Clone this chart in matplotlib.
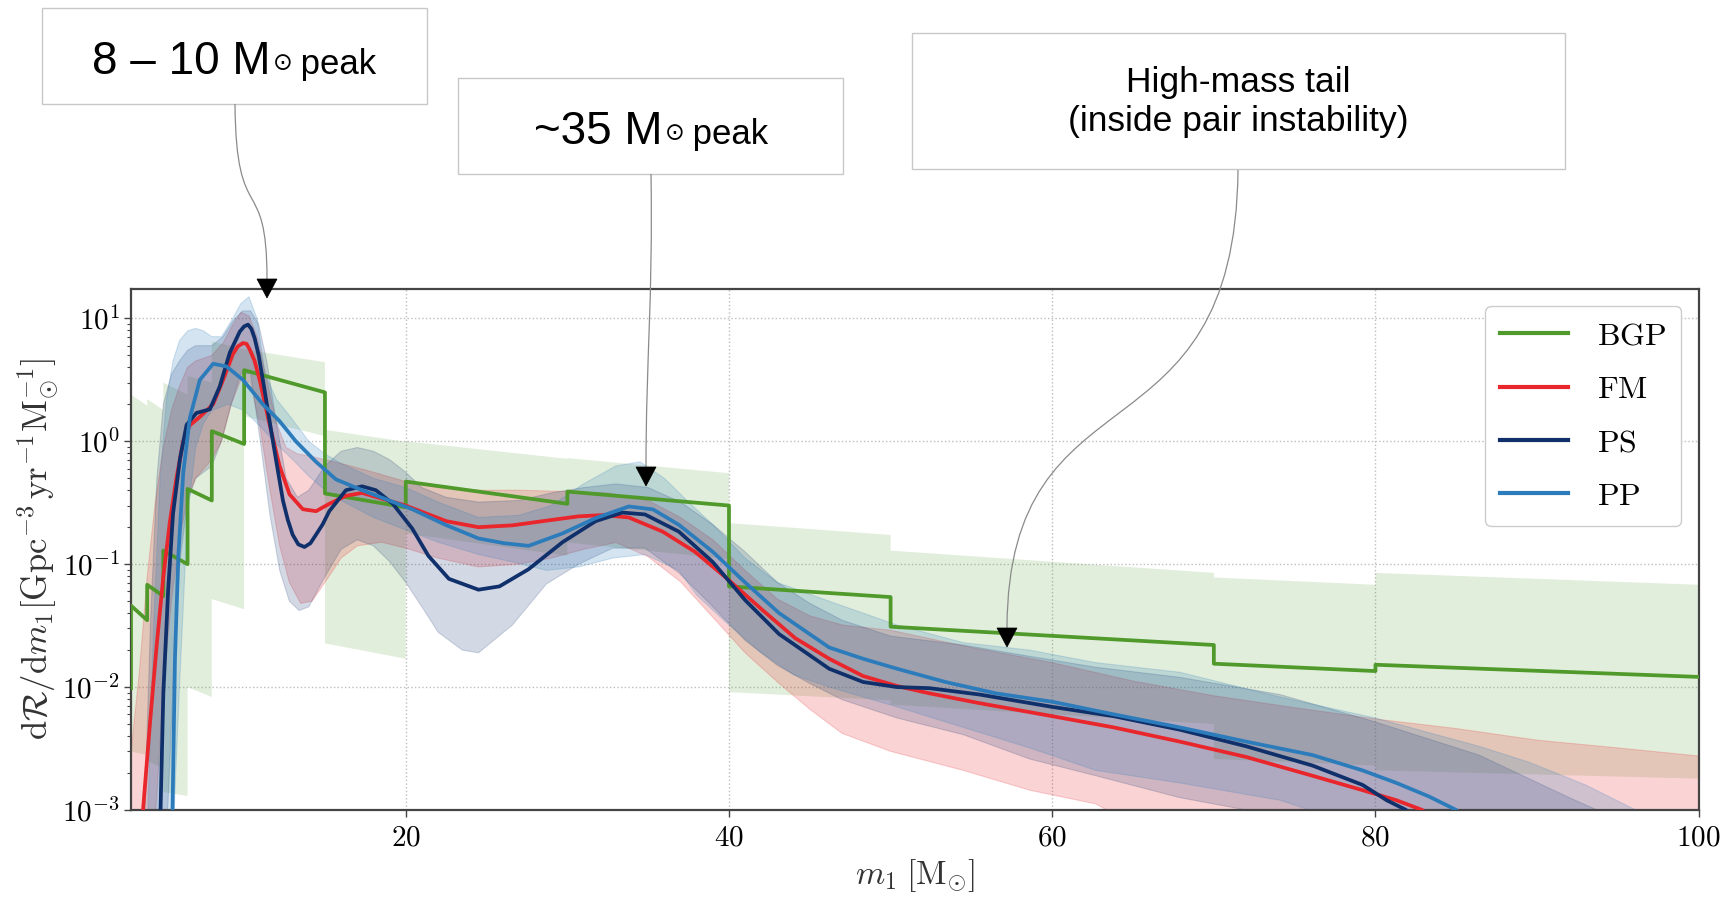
import numpy as np
import matplotlib
matplotlib.use("Agg")
import matplotlib.pyplot as plt
from matplotlib.patches import Rectangle, PathPatch, Polygon
from matplotlib.path import Path

plt.rcParams["mathtext.fontset"] = "cm"
plt.rcParams["font.family"] = ["DejaVu Serif"]

# ---------------- data ----------------
# Binned Gaussian process (BGP): bin edges, median at start/end of each bin, band at start/end
bgp_edges = [3.0, 4.0, 5.0, 6.5, 8.0, 10.0, 15.0, 20.0, 30.0, 40.0, 50.0, 70.0, 80.0, 100.0]
bgp_med_start = [0.046, 0.068, 0.129, 0.41, 1.21, 3.79, 0.376, 0.47, 0.39, 0.066, 0.031, 0.0155, 0.0152]
bgp_med_end = [0.035, 0.055, 0.100, 0.33, 0.95, 2.50, 0.29, 0.31, 0.30, 0.054, 0.022, 0.0135, 0.0121]
bgp_hi_start = [2.4, 2.2, 3.0, 3.4, 6.5, 5.6, 1.24, 1.0, 0.73, 0.216, 0.129, 0.078, 0.085]
bgp_hi_end = [1.95, 1.8, 2.4, 3.0, 5.6, 4.4, 0.99, 0.72, 0.55, 0.173, 0.085, 0.068, 0.068]
bgp_lo_start = [0.003, 0.0025, 0.0014, 0.0100, 0.052, 1.6, 0.0227, 0.178, 0.15, 0.0091, 0.0072, 0.0026, 0.0021]
bgp_lo_end = [0.0028, 0.0022, 0.0013, 0.0083, 0.043, 1.1, 0.017, 0.117, 0.11, 0.0078, 0.0050, 0.0023, 0.0018]
bgp_left_value = 0.0098

# Fixed-mass model (FM)
fm_x = [3.65, 4.18, 4.59, 5.0, 5.41, 5.82, 6.23, 6.64, 7.26, 8.08, 8.7, 9.3, 9.6, 9.93, 10.15, 10.34,
        10.65, 10.96, 11.58, 12.19, 12.81, 13.63, 14.45, 15.27, 16.3, 17.3, 18.56, 20.0, 22.5, 24.5,
        26.6, 28.7, 30.7, 32.2, 33.8, 35.9, 37.9, 40.0, 42.1, 44.1, 46.2, 48.3, 50.4, 52.4, 55.5,
        60.0, 63.8, 67.9, 72.0, 76.1, 79.2, 81.3, 82.9, 83.5]
fm_y = [0.0007, 0.0052, 0.022, 0.079, 0.224, 0.51, 1.0, 1.35, 1.58, 2.0, 3.16, 5.1, 5.9, 6.3, 6.2, 5.6,
        4.5, 3.16, 1.36, 0.63, 0.37, 0.28, 0.27, 0.31, 0.36, 0.38, 0.34, 0.30, 0.224, 0.20,
        0.207, 0.226, 0.245, 0.251, 0.24, 0.184, 0.126, 0.074, 0.042, 0.025, 0.017, 0.0123, 0.0102,
        0.0089, 0.0074, 0.0058, 0.0047, 0.0036, 0.0027, 0.0019, 0.00145, 0.0012, 0.001, 0.0008]
fm_hi_x = [3.0, 3.5, 4.0, 4.5, 5.0, 5.5, 6.0, 6.5, 7.0, 8.0, 8.7, 9.3, 9.8, 10.3, 10.8, 11.4, 12.0,
           12.6, 13.3, 14.0, 15.0, 16.0, 18.0, 20.0, 22.0, 24.5, 27.0, 30.0, 32.5, 35.0, 37.0, 39.0,
           41.0, 43.0, 45.0, 47.0, 50.0, 55.0, 60.0, 65.0, 70.0, 75.0, 80.0, 85.0, 90.0, 95.0, 100.0]
fm_hi_y = [0.003, 0.0126, 0.079, 0.32, 0.89, 1.78, 2.8, 4.0, 4.5, 5.0, 6.3, 8.9, 11.2, 10.5, 7.1,
           3.16, 1.41, 0.89, 0.79, 0.76, 0.71, 0.66, 0.56, 0.47, 0.42, 0.40, 0.40, 0.39, 0.38, 0.33,
           0.24, 0.158, 0.089, 0.052, 0.038, 0.032, 0.029, 0.021, 0.0158, 0.0112, 0.0085, 0.0068,
           0.0055, 0.0046, 0.0037, 0.0032, 0.00275]
fm_lo_x = [3.0, 4.2, 4.6, 5.0, 5.5, 6.0, 6.5, 7.0, 8.0, 8.6, 9.2, 9.8, 10.4, 11.0, 11.6, 12.2, 12.8,
           13.5, 14.2, 15.0, 16.0, 17.0, 18.5, 20.0, 22.0, 24.5, 27.0, 29.0, 31.0, 33.0, 35.0, 37.0,
           39.0, 41.0, 43.0, 45.0, 47.0, 50.0, 54.5, 58.6, 62.7, 64.0, 70.0, 100.0]
fm_lo_y = [0.0001, 0.0003, 0.0013, 0.01, 0.05, 0.158, 0.35, 0.5, 0.71, 1.0, 2.0, 3.16, 3.0, 1.26,
           0.40, 0.141, 0.071, 0.048, 0.050, 0.071, 0.112, 0.141, 0.151, 0.135, 0.112, 0.095, 0.10,
           0.112, 0.132, 0.15, 0.115, 0.072, 0.037, 0.019, 0.011, 0.0066, 0.0042, 0.0030, 0.0021,
           0.00145, 0.00112, 0.0009, 0.0003, 0.0001]

# Power-law spline model (PS)
ps_x = [4.8, 5.0, 5.3, 5.6, 6.03, 6.44, 7.05, 7.88, 8.49, 9.11, 9.73, 10.0, 10.24, 10.45, 10.65,
        10.9, 11.16, 11.78, 12.4, 12.7, 13.0, 13.35, 13.73, 14.1, 14.45, 14.85, 15.27, 16.3, 17.3,
        18.15, 19.2, 20.4, 21.4, 22.67, 24.5, 25.8, 27.6, 29.7, 31.75, 33.4, 34.8, 36.9, 39.0, 41.0,
        43.1, 46.2, 48.3, 50.4, 52.4, 55.5, 60.0, 63.8, 67.9, 72.0, 76.1, 79.2, 80.7, 81.9, 82.3]
ps_y = [0.0007, 0.0089, 0.062, 0.257, 0.72, 1.36, 1.70, 1.82, 2.79, 5.25, 7.8, 8.6, 8.9, 8.2, 6.9,
        5.0, 3.16, 1.0, 0.33, 0.23, 0.174, 0.145, 0.138, 0.148, 0.174, 0.21, 0.27, 0.40, 0.43,
        0.40, 0.31, 0.195, 0.117, 0.076, 0.062, 0.066, 0.091, 0.151, 0.224, 0.263, 0.254, 0.184,
        0.104, 0.051, 0.027, 0.0141, 0.011, 0.010, 0.0098, 0.0087, 0.0069, 0.0058, 0.0045, 0.0033,
        0.0023, 0.0016, 0.0012, 0.001, 0.0008]
ps_hi_x = [3.8, 4.2, 4.6, 5.0, 5.5, 6.0, 6.5, 7.0, 8.0, 8.7, 9.3, 9.9, 10.4, 10.9, 11.4, 12.0, 12.6,
           13.3, 14.0, 15.0, 16.0, 17.0, 18.0, 19.0, 20.0, 21.0, 22.5, 24.5, 27.0, 29.0, 31.0, 33.0,
           35.0, 37.0, 39.0, 41.0, 43.0, 45.0, 47.0, 50.0, 54.5, 58.6, 62.7, 67.9, 74.1, 80.0, 86.4,
           89.5, 92.0, 94.5, 95.0]
ps_hi_y = [0.0006, 0.032, 0.5, 2.0, 3.5, 4.5, 5.5, 6.0, 6.0, 7.1, 9.5, 11.5, 11.5, 9.0, 4.5, 1.41,
           0.50, 0.35, 0.40, 0.63, 0.83, 0.89, 0.83, 0.71, 0.56, 0.42, 0.35, 0.32, 0.33, 0.38, 0.42,
           0.45, 0.42, 0.32, 0.21, 0.126, 0.071, 0.048, 0.035, 0.026, 0.022, 0.0178, 0.0145, 0.012,
           0.0087, 0.0052, 0.0028, 0.0018, 0.00126, 0.0009, 0.0006]
ps_lo_x = [5.2, 5.6, 6.0, 6.5, 7.0, 8.0, 8.6, 9.2, 9.8, 10.4, 11.0, 11.6, 12.2, 12.8, 13.4, 14.0,
           15.0, 16.0, 17.0, 18.0, 19.0, 20.0, 21.0, 22.0, 23.5, 24.5, 26.6, 28.7, 30.7, 32.8, 34.8,
           36.9, 39.0, 41.0, 43.0, 45.0, 47.0, 50.4, 54.5, 58.6, 62.7, 67.9, 72.0, 75.0]
ps_lo_y = [0.0006, 0.01, 0.1, 0.32, 0.5, 0.63, 1.0, 2.0, 3.55, 3.55, 1.0, 0.25, 0.089, 0.05, 0.042,
           0.045, 0.079, 0.132, 0.158, 0.141, 0.105, 0.071, 0.045, 0.028, 0.020, 0.019, 0.032, 0.069,
           0.10, 0.135, 0.135, 0.085, 0.045, 0.024, 0.015, 0.0107, 0.0079, 0.0056, 0.0041, 0.0026,
           0.0019, 0.00126, 0.001, 0.0008]

# Power law + peak model (PP)
pp_x = [5.55, 5.72, 5.93, 6.23, 6.64, 7.26, 8.08, 8.9, 9.93, 11.16, 12.19, 13.2, 14.45, 15.68, 17.3,
        18.97, 20.4, 22.46, 24.5, 26.1, 27.6, 29.7, 31.75, 33.8, 35.3, 36.9, 39.0, 41.0, 43.1, 46.2,
        48.3, 50.4, 53.4, 56.5, 60.0, 63.8, 67.9, 72.0, 76.1, 79.2, 81.3, 83.3, 85.0, 85.4]
pp_y = [0.0007, 0.017, 0.117, 0.55, 1.55, 3.16, 4.27, 4.07, 3.16, 2.0, 1.46, 1.0, 0.68, 0.49, 0.40,
        0.33, 0.28, 0.209, 0.162, 0.148, 0.141, 0.178, 0.237, 0.295, 0.279, 0.209, 0.126, 0.071,
        0.040, 0.021, 0.017, 0.0141, 0.011, 0.0089, 0.0076, 0.006, 0.0047, 0.0036, 0.0028, 0.0021,
        0.00166, 0.00129, 0.001, 0.0008]
pp_hi_x = [4.0, 4.4, 4.8, 5.2, 5.6, 6.0, 6.5, 7.0, 7.5, 8.0, 8.6, 9.2, 9.8, 10.3, 10.8, 11.3, 12.0,
           13.0, 14.0, 15.0, 16.0, 18.0, 20.0, 22.0, 24.5, 27.0, 29.0, 31.0, 33.0, 34.5, 36.0, 37.5,
           39.0, 41.0, 43.0, 46.2, 50.4, 54.5, 58.6, 62.7, 67.9, 74.1, 80.0, 86.4, 89.5, 93.0, 96.8,
           97.2]
pp_hi_y = [0.0006, 0.032, 0.5, 2.2, 4.5, 6.6, 7.9, 8.3, 7.9, 7.1, 7.1, 9.5, 13.2, 15.0, 10.0, 3.5,
           2.2, 1.5, 1.0, 0.79, 0.66, 0.50, 0.42, 0.32, 0.24, 0.25, 0.30, 0.45, 0.63, 0.68, 0.50,
           0.32, 0.21, 0.112, 0.071, 0.050, 0.032, 0.023, 0.020, 0.0158, 0.0132, 0.0083, 0.0056,
           0.0033, 0.00245, 0.0016, 0.0009, 0.0006]
pp_lo_x = [5.6, 6.0, 6.5, 7.0, 7.5, 8.0, 9.0, 10.0, 11.0, 12.0, 13.0, 14.0, 15.0, 16.0, 18.0, 20.0,
           22.0, 24.5, 26.5, 28.7, 30.7, 32.8, 34.8, 36.9, 38.0, 40.0, 42.0, 44.0, 46.2, 50.4, 54.5,
           58.6, 62.7, 67.9, 74.1, 77.0, 78.0]
pp_lo_y = [0.0006, 0.01, 0.25, 0.89, 1.41, 1.78, 2.0, 1.78, 1.32, 0.95, 0.71, 0.52, 0.40, 0.33, 0.24,
           0.19, 0.151, 0.12, 0.105, 0.089, 0.095, 0.112, 0.12, 0.089, 0.056, 0.032, 0.019, 0.0126,
           0.01, 0.0069, 0.0047, 0.0032, 0.0021, 0.00166, 0.0012, 0.0009, 0.0006]

x_ticks = [20, 40, 60, 80, 100]
y_ticks = [1e-3, 1e-2, 1e-1, 1e0, 1e1]
y_tick_labels = [r"$10^{-3}$", r"$10^{-2}$", r"$10^{-1}$", r"$10^{0}$", r"$10^{1}$"]

# ---------------- styles ----------------
C_BGP = "#4f9a2b"
C_FM = "#e8262b"
C_PS = "#10306b"
C_PP = "#2c7cbc"
SANS = ["Liberation Sans", "DejaVu Sans"]

W, H = 1733, 899
fig = plt.figure(figsize=(W / 100, H / 100), dpi=100)
ax_left, ax_right, ax_top, ax_bottom = 131.0, 1698.7, 288.5, 810.0
ax = fig.add_axes([ax_left / W, 1 - ax_bottom / H, (ax_right - ax_left) / W, (ax_bottom - ax_top) / H])

# BGP polyline and band, assembled bin by bin
bx, by = [bgp_edges[0]], [bgp_left_value]
hx, hy, lx, ly = [], [], [], []
for i in range(len(bgp_med_start)):
    a, b = bgp_edges[i], bgp_edges[i + 1]
    bx += [a, b]
    by += [bgp_med_start[i], bgp_med_end[i]]
    hx += [a, b]
    hy += [bgp_hi_start[i], bgp_hi_end[i]]
    lx += [a, b]
    ly += [bgp_lo_start[i], bgp_lo_end[i]]

ax.fill(np.r_[hx, lx[::-1]], np.r_[hy, ly[::-1]], color=C_BGP, alpha=0.16, lw=0, zorder=1)


def band(xu, yu, xl, yl, color, alpha, z):
    ax.fill(np.r_[xu, xl[::-1]], np.r_[yu, yl[::-1]], color=color, alpha=alpha,
            lw=0.8, ec=color, zorder=z)


band(np.array(fm_hi_x), np.array(fm_hi_y), np.array(fm_lo_x), np.array(fm_lo_y), C_FM, 0.2, 1.2)
band(np.array(ps_hi_x), np.array(ps_hi_y), np.array(ps_lo_x), np.array(ps_lo_y), C_PS, 0.18, 1.3)
band(np.array(pp_hi_x), np.array(pp_hi_y), np.array(pp_lo_x), np.array(pp_lo_y), C_PP, 0.2, 1.4)

lw = 2.7
ax.plot(bx, by, color=C_BGP, lw=lw, label=r"$\mathrm{BGP}$", zorder=3)
ax.plot(fm_x, fm_y, color=C_FM, lw=lw, label=r"$\mathrm{FM}$", zorder=3.2)
ax.plot(ps_x, ps_y, color=C_PS, lw=lw, label=r"$\mathrm{PS}$", zorder=3.3)
ax.plot(pp_x, pp_y, color=C_PP, lw=lw, label=r"$\mathrm{PP}$", zorder=3.4)

ax.set_yscale("log")
ax.set_xlim(3.0, 100)
ax.set_ylim(1e-3, 17.5)
ax.set_xticks(x_ticks)
ax.set_xticklabels([r"$%d$" % v for v in x_ticks])
ax.set_yticks(y_ticks)
ax.set_yticklabels(y_tick_labels)
ax.tick_params(axis="both", which="major", labelsize=21, length=5, width=1.0, color="#444444")
ax.tick_params(axis="y", which="minor", length=3, width=0.8, color="#444444")
ax.tick_params(axis="x", pad=5)
ax.tick_params(axis="y", pad=3)
ax.grid(True, which="major", ls=":", color="#bdbdbd", lw=1.0)
ax.set_axisbelow(True)
for s in ax.spines.values():
    s.set_color("#444444")
    s.set_linewidth(1.6)

ax.set_xlabel(r"$m_1\;[\mathrm{M}_{\odot}]$", fontsize=24, color="#333333", labelpad=4)
ax.set_ylabel(r"$\mathrm{d}\mathcal{R}/\mathrm{d}m_1[\mathrm{Gpc}^{-3}\,\mathrm{yr}^{-1}\mathrm{M}_{\odot}^{-1}]$",
              fontsize=25, color="#333333", labelpad=1)

leg = ax.legend(loc="upper right", fontsize=23, handlelength=2.15, handletextpad=0.9,
                labelspacing=0.7, borderpad=0.45, borderaxespad=0.55, fancybox=True,
                framealpha=1.0, edgecolor="#cccccc")
leg.get_frame().set_linewidth(1.0)
for line in leg.get_lines():
    line.set_linewidth(3.0)

# ---------------- annotation layer (figure pixels) ----------------
def fx(x):
    return x / W


def fy(y):
    return 1 - y / H


def box(x0, y0, x1, y1):
    fig.add_artist(Rectangle((fx(x0), fy(y1)), (x1 - x0) / W, (y1 - y0) / H,
                             transform=fig.transFigure, fc="white", ec="#c8c8c8", lw=1.0, zorder=5))


def arrow(p0, p1, p2, p3, head_w=20, head_h=19):
    tipx, tipy = p3
    base = (tipx, tipy - head_h)
    verts = [(fx(p0[0]), fy(p0[1])), (fx(p1[0]), fy(p1[1])), (fx(p2[0]), fy(p2[1])),
             (fx(base[0]), fy(base[1]))]
    path = Path(verts, [Path.MOVETO, Path.CURVE4, Path.CURVE4, Path.CURVE4])
    fig.add_artist(PathPatch(path, transform=fig.transFigure, fill=False, ec="#8a8a8a",
                             lw=0.9, zorder=6))
    tri = [(fx(tipx - head_w / 2), fy(tipy - head_h)), (fx(tipx + head_w / 2), fy(tipy - head_h)),
           (fx(tipx), fy(tipy))]
    fig.add_artist(Polygon(tri, closed=True, transform=fig.transFigure, fc="black", ec="black",
                           lw=0.5, zorder=7))


renderer = fig.canvas.get_renderer()


def peak_label(cx, baseline, big):
    parts = [(big, 33, SANS, 0), ("\u2299", 17, ["DejaVu Sans"], -4), (" peak", 25, SANS, 0)]
    texts, widths = [], []
    for s, size, fam, dy in parts:
        t = fig.text(0, fy(baseline + dy), s, fontsize=size, family=fam, va="baseline",
                     ha="left", color="black", zorder=8)
        texts.append(t)
        widths.append(t.get_window_extent(renderer).width)
    gaps = [3, -2]
    total = sum(widths) + sum(gaps)
    x = cx - total / 2
    for i, t in enumerate(texts):
        t.set_x(fx(x))
        x += widths[i] + (gaps[i] if i < len(gaps) else 0)


box(42, 8, 427, 104)
peak_label(234, 74, "8 \u2013 10 M")
box(458, 78, 843, 174)
peak_label(651, 144, "~35 M")
box(912, 33, 1565, 169)
fig.text(fx(1238), fy(102), "High-mass tail\n(inside pair instability)", fontsize=25.5,
         family=SANS, ha="center", va="center", multialignment="center", linespacing=1.22,
         zorder=8)

arrow((235, 104), (236, 230), (267, 170), (267, 298))
arrow((651, 174), (653, 300), (646, 360), (646, 486))
arrow((1238, 170), (1235, 470), (1008, 360), (1007, 647))

fig.savefig("out.png", dpi=100, facecolor="white")
